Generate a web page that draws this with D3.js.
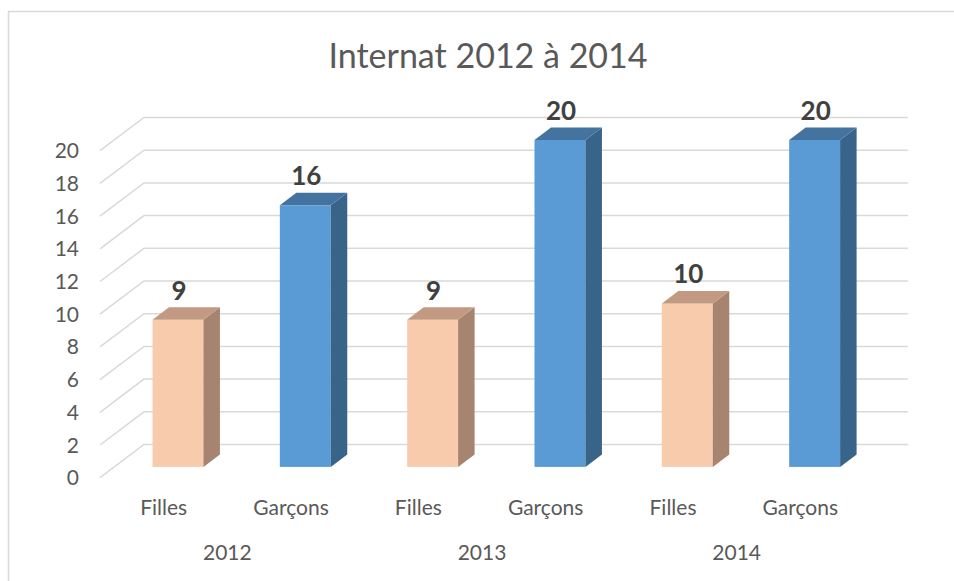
<!DOCTYPE html>
<html>
<head>
<meta charset="utf-8">
<script src="https://cdn.jsdelivr.net/npm/d3@7"></script>
<style>
  body { margin: 0; background: #fff; }
  text { font-family: Lato, "Open Sans", sans-serif; }
</style>
</head>
<body>
<svg id="chart" width="954" height="581"></svg>
<script>
const annees = ['2012', '2013', '2014']
const genres = ['Filles', 'Garçons']
const filles = [9, 9, 10]
const garcons = [16, 20, 20]
const yTicks = [0, 2, 4, 6, 8, 10, 12, 14, 16, 18, 20]

// one bar per (year, genre)
const bars = []
annees.forEach((a, i) => {
    bars.push({ annee: a, genre: 'Filles', value: filles[i] })
    bars.push({ annee: a, genre: 'Garçons', value: garcons[i] })
})

const colors = {
    Filles: { front: '#F8CBAD', side: '#A68470', top: '#C29A82' },
    'Garçons': { front: '#5B9BD5', side: '#38648A', top: '#4473A0' }
}

const svg = d3.select('#chart')

// chart border (cropped on the right / bottom)
svg.append('rect')
    .attr('x', 8.5).attr('y', 11.5)
    .attr('width', 1000).attr('height', 1000)
    .attr('fill', 'none').attr('stroke', '#D9D9D9').attr('stroke-width', 1.5)

// depth of the 3d floor
const depth = { dx: 44, dy: -33.2 }
const f1 = 0.325, f2 = 0.70

const x = d3.scaleBand()
    .domain(d3.range(bars.length))
    .range([100, 864])
    .paddingInner(0.6)
    .paddingOuter(0.3)

const y = d3.scaleLinear().domain([0, 20]).range([477.7, 150.7])

// gridlines: diagonal on the side wall + horizontal on the back wall
const grid = svg.append('g').attr('class', 'grid')
grid.selectAll('path')
    .data(yTicks)
    .enter().append('path')
    .attr('d', d => `M100,${y(d)} L${100 + depth.dx},${y(d) + depth.dy} L${864 + depth.dx},${y(d) + depth.dy}`)
    .attr('fill', 'none')
    .attr('stroke', '#D9D9D9')
    .attr('stroke-width', 1.5)

// y tick labels
svg.append('g').selectAll('text')
    .data(yTicks)
    .enter().append('text')
    .attr('x', 79)
    .attr('y', d => y(d))
    .attr('dy', '0.36em')
    .attr('text-anchor', 'end')
    .attr('font-size', 21)
    .attr('fill', '#595959')
    .text(d => d)

// bars
const bw = x.bandwidth()
const ox = depth.dx * f1, oy = depth.dy * f1
const bdx = depth.dx * (f2 - f1), bdy = depth.dy * (f2 - f1)

const g = svg.append('g').selectAll('g')
    .data(bars)
    .enter().append('g')

g.append('rect')
    .attr('x', (d, i) => x(i) + ox)
    .attr('y', d => y(d.value) + oy)
    .attr('width', bw)
    .attr('height', d => y(0) - y(d.value))
    .attr('fill', d => colors[d.genre].front)

g.append('path')
    .attr('d', (d, i) => {
        const xr = x(i) + ox + bw, yt = y(d.value) + oy, yb = y(0) + oy
        return `M${xr},${yt} L${xr + bdx},${yt + bdy} L${xr + bdx},${yb + bdy} L${xr},${yb} Z`
    })
    .attr('fill', d => colors[d.genre].side)

g.append('path')
    .attr('d', (d, i) => {
        const xl = x(i) + ox, yt = y(d.value) + oy
        return `M${xl},${yt} L${xl + bw},${yt} L${xl + bw + bdx},${yt + bdy} L${xl + bdx},${yt + bdy} Z`
    })
    .attr('fill', d => colors[d.genre].top)

// data labels
g.append('text')
    .attr('x', (d, i) => x(i) + ox + bw / 2 + 1)
    .attr('y', d => y(d.value) + oy - 20)
    .attr('text-anchor', 'middle')
    .attr('font-size', 26)
    .attr('font-weight', 'bold')
    .attr('fill', '#404040')
    .text(d => d.value)

// category labels
svg.append('g').selectAll('text')
    .data(bars)
    .enter().append('text')
    .attr('x', (d, i) => x(i) + bw / 2)
    .attr('y', 515)
    .attr('text-anchor', 'middle')
    .attr('font-size', 21)
    .attr('fill', '#595959')
    .text(d => d.genre)

// year labels
svg.append('g').selectAll('text')
    .data(annees)
    .enter().append('text')
    .attr('x', (d, i) => (x(2 * i) + x(2 * i + 1)) / 2 + bw / 2)
    .attr('y', 560)
    .attr('text-anchor', 'middle')
    .attr('font-size', 21)
    .attr('fill', '#595959')
    .text(d => d)

// title
svg.append('text')
    .attr('x', 488)
    .attr('y', 68)
    .attr('text-anchor', 'middle')
    .attr('font-size', 34)
    .attr('fill', '#595959')
    .text('Internat 2012 à 2014')
</script>
</body>
</html>
